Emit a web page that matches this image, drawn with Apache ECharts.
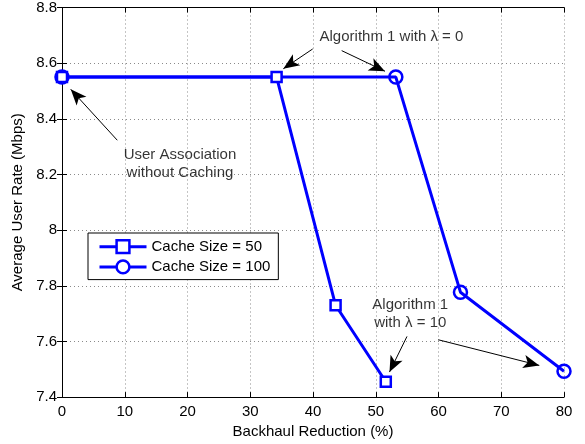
<!DOCTYPE html>
<html>
<head>
<meta charset="utf-8">
<script src="https://cdn.jsdelivr.net/npm/echarts@6/dist/echarts.min.js"></script>
<style>
html,body{margin:0;padding:0;background:#fff;}
#chart{width:585px;height:444px;}
</style>
</head>
<body>
<div id="chart"></div>
<script>
// ---- data ----
const seriesNames = ['Cache Size = 50', 'Cache Size = 100'];
const cache50 = [[0, 8.55], [34.2, 8.55], [43.6, 7.73], [51.6, 7.455]];
const cache100 = [[0, 8.55], [53.2, 8.55], [63.5, 7.777], [80, 7.493]];
const xTicks = [0, 10, 20, 30, 40, 50, 60, 70, 80];
const yTicks = ['7.4', '7.6', '7.8', '8', '8.2', '8.4', '8.6', '8.8'];

// annotation texts (data coords of their centres)
const annoTexts = [
  { text: 'Algorithm 1 with \u03bb = 0', at: [52.5, 8.696] },
  { text: 'User Association\nwithout Caching', at: [18.8, 8.238] },
  { text: 'Algorithm 1\nwith \u03bb = 10', at: [55.5, 7.700] }
];
// annotation arrows [tail, head] in data coords
const annoArrows = [
  [[39.95, 8.651], [35.27, 8.580]],
  [[44.57, 8.645], [51.47, 8.571]],
  [[8.81, 8.323], [1.39, 8.506]],
  [[54.98, 7.618], [52.19, 7.490]],
  [[59.97, 7.606], [76.06, 7.514]]
];

const FONT = '"Liberation Sans", Arial, Helvetica, sans-serif';
const BLUE = '#0000ff';
const chart = echarts.init(document.getElementById('chart'), null, { renderer: 'canvas' });

const baseX = {
  type: 'value', min: 0, max: 80, interval: 10,
  axisLine: { show: true, lineStyle: { color: '#000', width: 1 } },
  axisTick: { show: true, inside: true, length: 5, lineStyle: { color: '#000' } },
};
const baseY = {
  type: 'value', min: 7.4, max: 8.8, interval: 0.2,
  axisLine: { show: true, lineStyle: { color: '#000', width: 1 } },
  axisTick: { show: true, inside: true, length: 5, lineStyle: { color: '#000' } },
};

const option = {
  animation: false,
  backgroundColor: '#fff',
  textStyle: { fontFamily: FONT },
  grid: { left: 62, right: 21, top: 7, bottom: 43, containLabel: false },
  legend: {
    data: seriesNames,
    orient: 'vertical',
    left: 88, top: 233,
    itemWidth: 47, itemHeight: 16, itemGap: 5,
    padding: [6, 8, 5, 10],
    borderColor: '#000', borderWidth: 1,
    backgroundColor: '#fff',
    lineStyle: { width: 3, color: BLUE },
    itemStyle: { borderWidth: 2.5, borderColor: BLUE, color: '#fff' },
    textStyle: { fontSize: 15, color: '#000', fontFamily: FONT },
    selectedMode: false
  },
  xAxis: [
    Object.assign({}, baseX, {
      position: 'bottom',
      name: 'Backhaul Reduction (%)', nameLocation: 'middle', nameGap: 23,
      nameTextStyle: { fontSize: 15, color: '#000', fontFamily: FONT },
      axisLabel: { show: true, fontSize: 15, color: '#000', margin: 7, fontFamily: FONT,
        formatter: v => (xTicks.indexOf(v) >= 0 ? String(v) : '') },
      splitLine: { show: true, lineStyle: { color: '#8a8a8a', type: [1, 3], width: 1 } }
    }),
    Object.assign({}, baseX, {
      position: 'top', axisLabel: { show: false }, splitLine: { show: false }
    })
  ],
  yAxis: [
    Object.assign({}, baseY, {
      position: 'left',
      name: 'Average User Rate (Mbps)', nameLocation: 'middle', nameGap: 31,
      nameTextStyle: { fontSize: 15, color: '#000', fontFamily: FONT },
      axisLabel: { show: true, fontSize: 15, color: '#000', margin: 5, fontFamily: FONT,
        formatter: v => { const s = String(Math.round(v * 10) / 10); return yTicks.indexOf(s) >= 0 ? s : ''; } },
      splitLine: { show: true, lineStyle: { color: '#8a8a8a', type: [1, 3], width: 1 } }
    }),
    Object.assign({}, baseY, {
      position: 'right', axisLabel: { show: false }, splitLine: { show: false }
    })
  ],
  series: [
    {
      name: seriesNames[0], type: 'line', data: cache50, clip: false,
      symbol: 'rect', symbolSize: 10,
      lineStyle: { color: BLUE, width: 3 },
      itemStyle: { color: '#fff', borderColor: BLUE, borderWidth: 2.5 },
      z: 3
    },
    {
      name: seriesNames[1], type: 'line', data: cache100, clip: false,
      symbol: 'circle', symbolSize: 13,
      lineStyle: { color: BLUE, width: 3 },
      itemStyle: { color: 'rgba(255,255,255,0)', borderColor: BLUE, borderWidth: 2.5 },
      z: 3
    },
    {
      name: 'arrows', type: 'line', data: [], silent: true,
      markLine: {
        silent: true, animation: false,
        symbol: ['none', 'arrow'], symbolSize: [10, 16],
        label: { show: false },
        lineStyle: { color: '#000', width: 1, type: 'solid' },
        emphasis: { disabled: true },
        data: annoArrows.map(a => [{ coord: a[0] }, { coord: a[1] }])
      },
      z: 4
    },
    {
      name: 'notes', type: 'scatter', silent: true, symbolSize: 0,
      data: annoTexts.map(t => ({ value: t.at, name: t.text })),
      label: {
        show: true, position: 'inside', formatter: p => p.name,
        fontSize: 15, color: '#000', fontFamily: FONT, lineHeight: 18, align: 'center'
      },
      z: 5
    }
  ]
};
chart.setOption(option);
</script>
</body>
</html>
